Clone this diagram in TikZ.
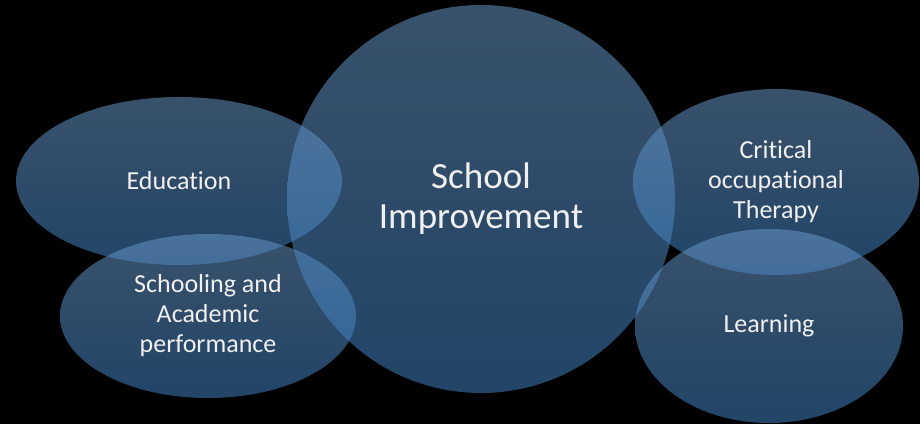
\documentclass[tikz,border=0pt]{standalone}
\usepackage{fontspec}
\setmainfont{Carlito}[Ligatures={NoCommon},RawFeature={-liga;-clig}]
\usetikzlibrary{shapes.geometric}
\definecolor{bubtop}{RGB}{104,150,196}
\definecolor{bubbot}{RGB}{62,126,190}
\tikzset{
  bubble/.style={ellipse,inner sep=0pt,top color=bubtop,bottom color=bubbot,
    fill opacity=0.55,text opacity=1,text=white!94!black,align=center,
    font=\fontsize{26}{30}\selectfont},
}
\begin{document}
\begin{tikzpicture}[x=1pt,y=-1pt]
			\fill[black] (0,0) rectangle (920,424);
			\useasboundingbox (0,0) rectangle (920,424);
			\node[bubble,minimum width=326,minimum height=168] (edu) at (179,181) {Education};
			\node[bubble,minimum width=296,minimum height=164] (sch) at (208,316) {Schooling and\\Academic\\performance};
			\node[bubble,minimum width=388,minimum height=388,font=\fontsize{37}{40}\selectfont] (imp) at (481,199) {School\\Improvement};
			\node[bubble,minimum width=286,minimum height=186] (cot) at (776,182) {Critical\\occupational\\Therapy};
			\node[bubble,minimum width=268,minimum height=194] (lrn) at (769,326) {Learning};
		\end{tikzpicture}
\end{document}
